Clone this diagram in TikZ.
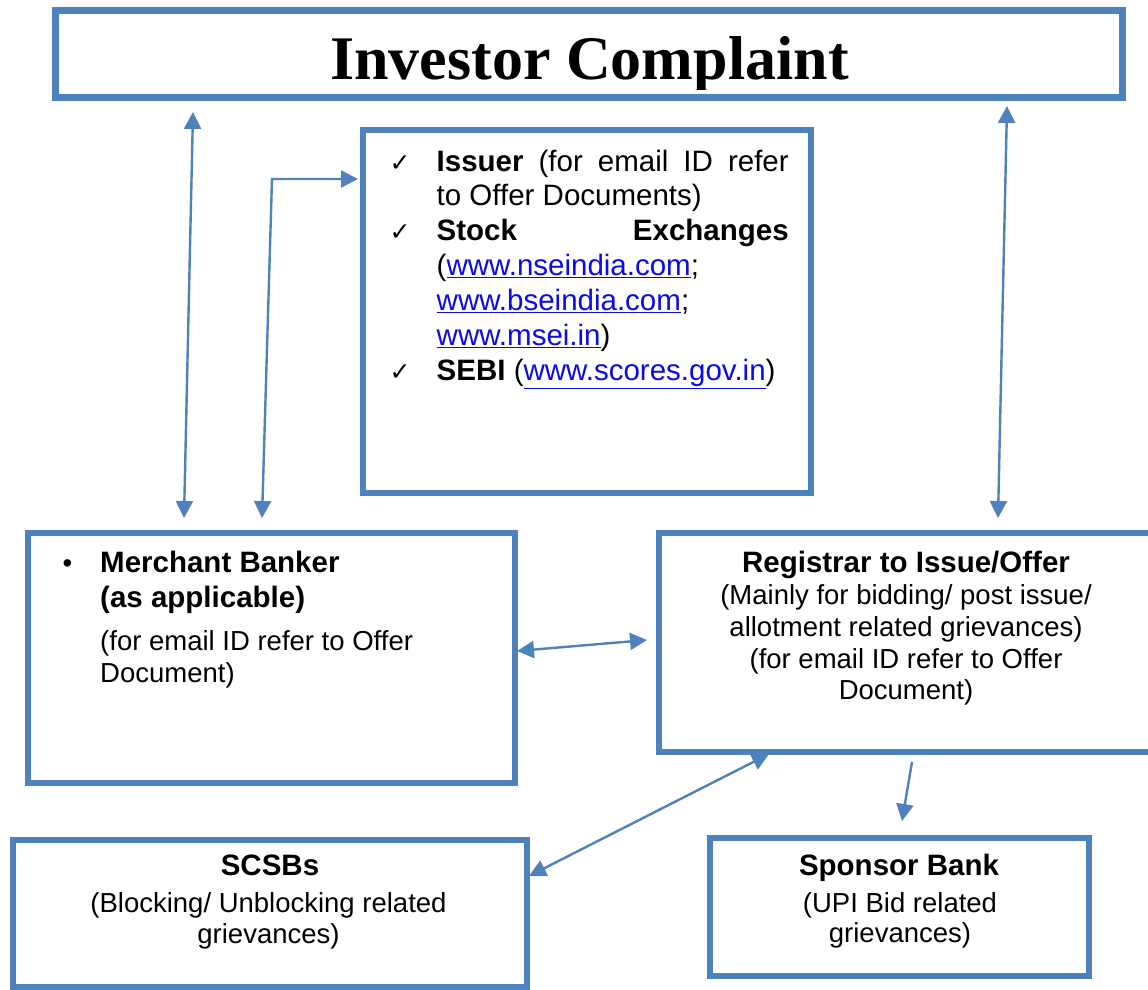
\documentclass[tikz,border=0pt]{standalone}
\usepackage{fontspec}
\setmainfont{Liberation Sans}
\newfontfamily\titlefont{Liberation Serif}
\newfontfamily\symfont{DejaVu Sans}
\usetikzlibrary{arrows.meta}
\definecolor{boxblue}{RGB}{79,129,189}
\definecolor{linkblue}{RGB}{10,10,235}
\newcommand{\lnk}[1]{{\color{linkblue}\underline{#1}}}
\begin{document}
\begin{tikzpicture}[x=1pt,y=-1pt,
  box/.style={draw=boxblue, line width=6pt, fill=white, rectangle, inner sep=0pt, minimum width=#1},
  reg/.style={inner sep=0pt, font=\fontsize{27.5}{31.6}\selectfont},
  bld/.style={inner sep=0pt, font=\fontsize{29.5}{34}\selectfont\bfseries},
  big/.style={inner sep=0pt, font=\fontsize{29.5}{34}\selectfont},
  chk/.style={inner sep=0pt, font=\fontsize{25}{28}\symfont},
  conn/.style={draw=boxblue, line width=2.4pt, {Triangle[length=17pt,width=17pt]}-{Triangle[length=17pt,width=17pt]}},
  conn1/.style={draw=boxblue, line width=2.4pt, -{Triangle[length=17pt,width=17pt]}}
]
\useasboundingbox (0,0) rectangle (1148,990);
\fill[white] (0,0) rectangle (1148,990);

% boxes
\node[box=1067pt, minimum height=86pt, line width=7pt] (top) at (588.5,54) {};
\node[box=448pt, minimum height=363pt] (issuer) at (587,311.5) {};
\node[box=487pt, minimum height=250pt] (merchant) at (271.5,658) {};
\node[box=505pt, minimum height=219pt] (registrar) at (911.5,642.5) {};
\node[box=514pt, minimum height=147pt] (scsb) at (270,913.5) {};
\node[box=379pt, minimum height=138pt] (sponsor) at (899.5,907) {};

% title
\begin{scope}
\clip (58,14) rectangle (1119,89.5);
\node[inner sep=0pt, anchor=base, font=\fontsize{62}{70}\titlefont\bfseries] (title) at (589.5,80) {Investor Complaint};
\end{scope}

% issuer box text
\node[chk, anchor=base] (c1) at (400,171.7) {✓};
\node[big, anchor=base west] (i1) at (436.5,171.7) {\makebox[352pt][s]{\textbf{Issuer} (for email ID refer}};
\node[big, anchor=base west] (i2) at (436.5,205.5) {to Offer Documents)};
\node[chk, anchor=base] (c2) at (400,240.5) {✓};
\node[big, anchor=base west] (i3) at (436.5,240.5) {\makebox[352pt][s]{\textbf{Stock}\hfill\textbf{Exchanges}}};
\node[big, anchor=base west] (i4) at (436.5,275.5) {(\lnk{www.nseindia.com};};
\node[big, anchor=base west] (i5) at (436.5,310.5) {\lnk{www.bseindia.com};};
\node[big, anchor=base west] (i6) at (436.5,345.5) {\lnk{www.msei.in})};
\node[chk, anchor=base] (c3) at (400,380.5) {✓};
\node[big, anchor=base west] (i7) at (436.5,380.5) {\textbf{SEBI} (\lnk{www.scores.gov.in})};

% merchant text
\node[reg, anchor=base] (mb) at (67.5,572) {\textbullet};
\node[bld, anchor=base west] (m1) at (100,572) {Merchant Banker};
\node[bld, anchor=base west] (m2) at (100,607) {(as applicable)};
\node[reg, anchor=base west] (m3) at (100,650) {(for email ID refer to Offer};
\node[reg, anchor=base west] (m4) at (100,682) {Document)};

% registrar text
\node[bld, anchor=base] (r1) at (906,572) {Registrar to Issue/Offer};
\node[reg, anchor=base] (r2) at (906,604.5) {(Mainly for bidding/ post issue/};
\node[reg, anchor=base] (r3) at (906,636.5) {allotment related grievances)};
\node[reg, anchor=base] (r4) at (906,668) {(for email ID refer to Offer};
\node[reg, anchor=base] (r5) at (906,699) {Document)};

% scsb text
\node[bld, anchor=base] (s1) at (270,875) {SCSBs};
\node[reg, anchor=base] (s2) at (268.5,912) {(Blocking/ Unblocking related};
\node[reg, anchor=base] (s3) at (268.5,943) {grievances)};

% sponsor text
\node[bld, anchor=base] (p1) at (899,875) {Sponsor Bank};
\node[reg, anchor=base] (p2) at (900,912) {(UPI Bid related};
\node[reg, anchor=base] (p3) at (900,942) {grievances)};

% connector end points
\coordinate (tl) at (193,112);
\coordinate (ml) at (184,518);
\coordinate (eiss) at (358,179);
\coordinate (ecorner) at (272,179);
\coordinate (emer) at (262,518);
\coordinate (tr) at (1007,106);
\coordinate (rt) at (998,518);
\coordinate (mr) at (517,651);
\coordinate (rl) at (647,640);
\coordinate (rb) at (769,754);
\coordinate (sr) at (529,876);
\coordinate (rs) at (912,762);
\coordinate (st) at (902,821);

% connectors
\draw[conn] (ml) -- (tl);
\draw[conn] (eiss) -- (ecorner) -- (emer);
\draw[conn] (rt) -- (tr);
\draw[conn] (mr) -- (rl);
\draw[conn] (rb) -- (sr);
\draw[conn1] (rs) -- (st);
\end{tikzpicture}
\end{document}
